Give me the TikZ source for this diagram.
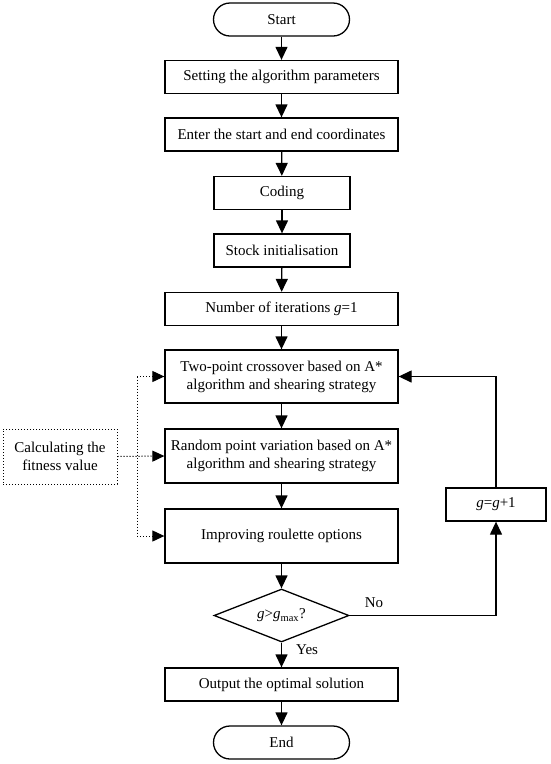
\documentclass[tikz,border=0pt]{standalone}
\usepackage{fontspec}
\setmainfont{Liberation Serif}
\usetikzlibrary{arrows.meta,shapes.geometric}
\begin{document}
\begin{tikzpicture}[x=1pt,y=-1pt,
  every node/.style={font=\fontsize{15}{18}\selectfont},
  box/.style={draw,line width=1.3pt,minimum width=233pt,minimum height=33pt,inner sep=0pt,align=center},
  smallbox/.style={box,minimum width=136pt},
  term/.style={draw,line width=1.3pt,minimum width=136pt,minimum height=33pt,inner sep=0pt,rounded corners=16.5pt},
  decision/.style={draw,line width=1.3pt,diamond,aspect=2.55,minimum width=135pt,minimum height=53pt,inner sep=0pt},
  dotbox/.style={draw,line width=1pt,dash pattern=on 1.2pt off 1.8pt,minimum width=114pt,minimum height=55pt,inner sep=0pt,align=center},
  arr/.style={-{Triangle[length=13pt,width=12pt]},line width=1.3pt},
  dotline/.style={line width=1pt,dash pattern=on 1.2pt off 1.8pt},
  dotarr/.style={dotline,-{Triangle[length=12pt,width=11pt]}},
  lbl/.style={inner sep=0pt}
]
\useasboundingbox (0,0) rectangle (550,764);
\node[term] (start) at (281.5,19.5) {Start};
\node[box] (p1) at (281.5,77) {Setting the algorithm parameters};
\node[box] (p2) at (281.5,134.5) {Enter the start and end coordinates};
\node[smallbox] (coding) at (282,193) {Coding};
\node[smallbox] (stock) at (282,250.5) {Stock initialisation};
\node[box] (iter) at (281.5,309) {Number of iterations \textit{g}=1};
\node[box,minimum height=53pt] (cross) at (281.5,376.5) {Two-point crossover based on A*\\algorithm and shearing strategy};
\node[box,minimum height=54pt] (rand) at (281.5,456) {Random point variation based on A*\\algorithm and shearing strategy};
\node[box,minimum height=54pt] (impr) at (281.5,536) {Improving roulette options};
\node[decision] (dec) at (281.5,615.5) {\textit{g}>\textit{g}\textsubscript{max}?};
\node[box] (out) at (281.5,684.5) {Output the optimal solution};
\node[term] (end) at (281.5,742.5) {End};
\node[dotbox] (calc) at (60,456.5) {Calculating the\\fitness value};
\node[box,minimum width=100pt] (ginc) at (496,504.5) {\textit{g}=\textit{g}+1};
\node[lbl] (no) at (374,603) {No};
\node[lbl,anchor=west] (yes) at (296,650) {Yes};

\draw[arr] (start) -- (p1);
\draw[arr] (p1) -- (p2);
\draw[arr] (p2) -- (coding);
\draw[arr] (coding) -- (stock);
\draw[arr] (stock) -- (iter);
\draw[arr] (iter) -- (cross);
\draw[arr] (cross) -- (rand);
\draw[arr] (rand) -- (impr);
\draw[arr] (impr) -- (dec);
\draw[arr] (dec) -- (out);
\draw[arr] (out) -- (end);
\draw[arr] (dec.east) -| (ginc.south);
\draw[arr] (ginc.north) |- (cross.east);

\coordinate (vx) at (137,456);
\draw[dotarr] (calc.east) -- (rand.west);
\draw[dotline] (vx |- cross.west) -- (vx |- impr.west);
\draw[dotarr] (vx |- cross.west) -- (cross.west);
\draw[dotarr] (vx |- impr.west) -- (impr.west);
\end{tikzpicture}
\end{document}
